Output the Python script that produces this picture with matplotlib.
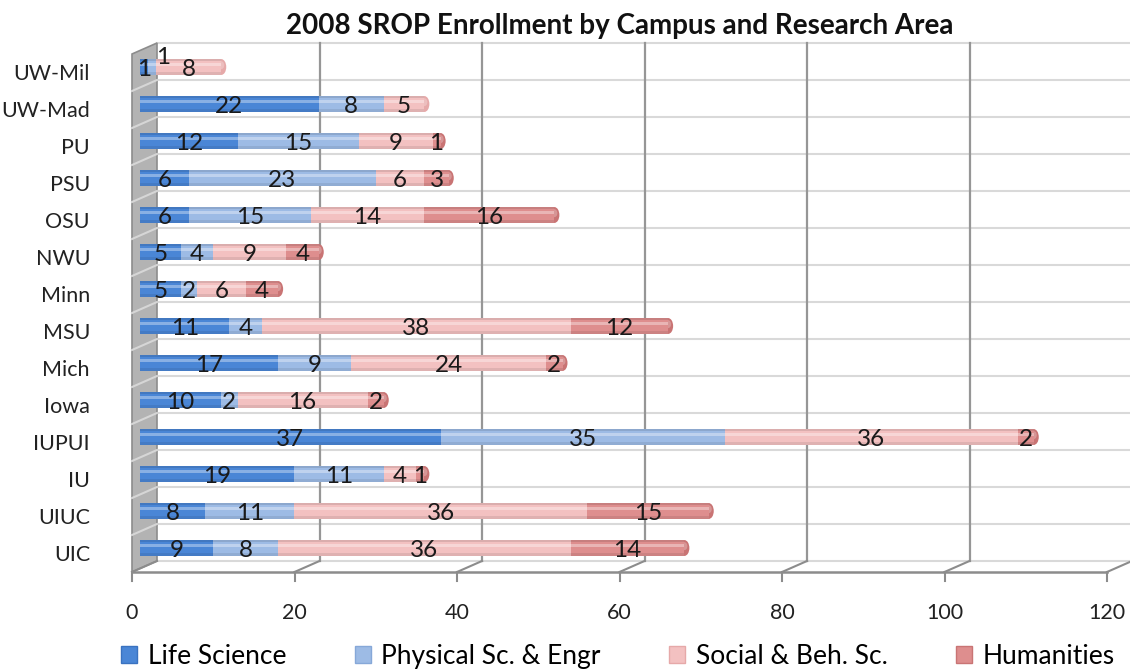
import matplotlib
matplotlib.use("Agg")
import matplotlib.pyplot as plt
import numpy as np
from matplotlib.patches import Polygon, Ellipse, Patch
from matplotlib.transforms import offset_copy, ScaledTranslation

plt.rcParams['font.family'] = ['Lato', 'DejaVu Sans']

campuses = ['UIC', 'UIUC', 'IU', 'IUPUI', 'Iowa', 'Mich', 'MSU', 'Minn',
            'NWU', 'OSU', 'PSU', 'PU', 'UW-Mad', 'UW-Mil']
life_science = [9, 8, 19, 37, 10, 17, 11, 5, 5, 6, 6, 12, 22, 1]
physical_sc = [8, 11, 11, 35, 2, 9, 4, 2, 4, 15, 23, 15, 8, 1]
social_beh = [36, 36, 4, 36, 16, 24, 38, 6, 9, 14, 6, 9, 5, 8]
humanities = [14, 15, 1, 2, 2, 2, 12, 4, 4, 16, 3, 1, 0, 0]

series_names = ['Life Science', 'Physical Sc. & Engr', 'Social & Beh. Sc.', 'Humanities']
series = [life_science, physical_sc, social_beh, humanities]
colors = ['#4a86d6', '#9dbbe5', '#f3c1c1', '#de8e8e']
caps = ['#3a72c0', '#86a8d8', '#e6a9a9', '#c97474']

xticks = [0, 20, 40, 60, 80, 100, 120]

W, H = 1130, 672
fig = plt.figure(figsize=(W / 100, H / 100), dpi=100)
# axes = the plane the bars sit in (mid depth of the 3-D box)
ax = fig.add_axes([140 / W, 105.5 / H, 975 / W, 518 / H])
ax.set_xlim(0, 120)
ax.set_ylim(-0.5, 13.5)
for s in ax.spines.values():
    s.set_visible(False)
ax.set_xticks([])

# depth offsets in pixels
BX, BY = 17, 5.5    # back wall
FX, FY = -8, -5.5   # front edge
ux = 975 / 120      # px per x unit
uy = 518 / 14       # px per category
back = offset_copy(ax.transData, fig=fig, x=BX, y=BY, units='dots')
front = offset_copy(ax.transData, fig=fig, x=FX, y=FY, units='dots')

grid_c = '#8c8c8c'
# back wall grid
for b in np.arange(-0.5, 14, 1):
    ax.plot([0, 120], [b, b], transform=back, color='#d9d9d9', lw=1.5,
            clip_on=False, zorder=0)
for v in xticks[1:]:
    ax.plot([v, v], [-0.5, 13.5], transform=back, color='#969696', lw=1.6,
            clip_on=False, zorder=0.5)

# left wall
wall = Polygon([(FX / ux, -0.5 + FY / uy), (BX / ux, -0.5 + BY / uy),
                (BX / ux, 13.5 + BY / uy), (FX / ux, 13.5 + FY / uy)],
               closed=True, facecolor='#b3b3b3', edgecolor=grid_c, lw=1.2,
               clip_on=False, zorder=1)
ax.add_patch(wall)
for b in np.arange(0.5, 13.5, 1):
    ax.plot([FX / ux, BX / ux], [b + FY / uy, b + BY / uy], color='#d6d6d6',
            lw=1.5, clip_on=False, zorder=1.1)

# floor
ax.plot([0, 120], [-0.5, -0.5], transform=front, color=grid_c, lw=1.8,
        clip_on=False, zorder=1)
for v in xticks:
    ax.plot([FX / ux + v, BX / ux + v], [-0.5 + FY / uy, -0.5 + BY / uy],
            color=grid_c, lw=1.5, clip_on=False, zorder=1)
    ax.plot([v, v], [-0.5, -0.5 - 9 / uy], transform=front, color=grid_c,
            lw=1.5, clip_on=False, zorder=1)
    ax.text(v, -0.5, str(v), transform=offset_copy(ax.transData, fig=fig, x=FX, y=FY - 31, units='dots'),
            ha='center', va='top', fontsize=15.5, color='#222222')

# bars
y = np.arange(len(campuses))
bh = 0.43
left = np.zeros(len(campuses))
totals = np.sum(series, axis=0)
for k, (vals, c) in enumerate(zip(series, colors)):
    vals = np.array(vals, dtype=float)
    ax.barh(y, vals, left=left, height=bh, color=c, zorder=3, linewidth=0)
    # cylinder shading
    ax.barh(y + 0.07, vals, left=left, height=0.1, color='white', alpha=0.35,
            zorder=3.2, linewidth=0)
    ax.barh(y - 0.17, vals, left=left, height=0.09, color='black', alpha=0.08,
            zorder=3.2, linewidth=0)
    ax.barh(y + 0.195, vals, left=left, height=0.04, color='black', alpha=0.1,
            zorder=3.2, linewidth=0)
    for i, v in enumerate(vals):
        if v == 0:
            continue
        dx, dy = 0, -0.08
        if campuses[i] == 'UW-Mil' and k == 1:
            dx, dy = 1.4, 0.25
        ax.text(left[i] + v / 2 + dx, y[i] + dy, f'{int(v)}', ha='center', va='center',
                fontsize=17.5, color='#1a1a1a', zorder=5)
    left += vals

# rounded end caps
for i, tot in enumerate(totals):
    last = max(k for k in range(4) if series[k][i] > 0)
    ax.add_patch(Ellipse((tot, y[i]), 10 / ux, bh, facecolor=caps[last],
                         edgecolor='none', zorder=2.9))
    ax.add_patch(Ellipse((tot, y[i] + 0.05), 6 / ux, bh * 0.5, facecolor='white',
                         alpha=0.25, edgecolor='none', zorder=2.95))

ax.set_yticks(y)
ax.set_yticklabels(campuses, fontsize=15.5, color='#222222')
ax.tick_params(axis='y', length=0, pad=36)
shift = ScaledTranslation(0, -5 / 100, fig.dpi_scale_trans)
for lab in ax.get_yticklabels():
    lab.set_transform(lab.get_transform() + shift)

fig.text(0.548, 0.962, '2008 SROP Enrollment by Campus and Research Area',
         ha='center', va='center', fontsize=20, fontweight='bold', color='#111111')

handles = [Patch(facecolor=c, edgecolor=e, lw=1) for c, e in zip(colors, caps)]
fig.legend(handles, series_names, loc='center', bbox_to_anchor=(0.547, 0.023),
           ncol=4, frameon=False, fontsize=19, handlelength=0.6, handleheight=0.6,
           handletextpad=0.4, columnspacing=2.6)

fig.savefig('out.png', dpi=100)
